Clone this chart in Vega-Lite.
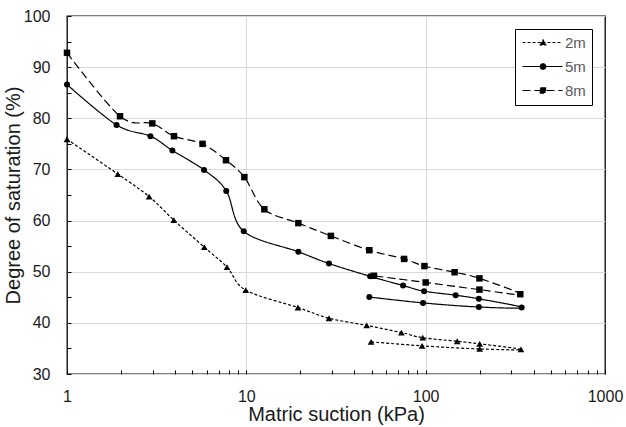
{
  "$schema": "https://vega.github.io/schema/vega-lite/v6.json",
  "width": 538,
  "height": 358,
  "autosize": "none",
  "padding": {"left": 67, "top": 16, "right": 21, "bottom": 53},
  "background": "white",
  "config": {
    "font": "Liberation Sans",
    "view": {"stroke": "black", "strokeWidth": 1.3},
    "axis": {
      "labelFont": "Liberation Sans",
      "titleFont": "Liberation Sans",
      "labelFontSize": 16,
      "titleFontSize": 20,
      "titleFontWeight": "normal",
      "labelColor": "#1a1a1a",
      "titleColor": "#1a1a1a",
      "domain": false,
      "ticks": true,
      "tickColor": "black",
      "tickWidth": 1,
      "tickOpacity": 1,
      "gridColor": "#d9d9d9",
      "gridWidth": 1
    },
    "legend": {
      "labelFont": "Liberation Sans",
      "labelFontSize": 15,
      "labelColor": "#595959"
    }
  },
  "data": {
    "values": [
      {"series": "2m", "o": 1, "x": 1, "y": 75.9},
      {"series": "2m", "o": 2, "x": 1.92, "y": 69.1},
      {"series": "2m", "o": 3, "x": 2.87, "y": 64.7},
      {"series": "2m", "o": 4, "x": 3.94, "y": 60.1},
      {"series": "2m", "o": 5, "x": 5.83, "y": 54.8},
      {"series": "2m", "o": 6, "x": 7.8, "y": 50.9},
      {"series": "2m", "o": 7, "x": 9.92, "y": 46.4},
      {"series": "2m", "o": 8, "x": 19.4, "y": 43.0},
      {"series": "2m", "o": 9, "x": 28.9, "y": 40.9},
      {"series": "2m", "o": 10, "x": 46.9, "y": 39.5},
      {"series": "2m", "o": 11, "x": 73.2, "y": 38.1},
      {"series": "2m", "o": 12, "x": 96.3, "y": 37.1},
      {"series": "2m", "o": 13, "x": 150, "y": 36.4},
      {"series": "2m", "o": 14, "x": 200, "y": 35.9},
      {"series": "2m", "o": 15, "x": 340, "y": 34.8},
      {"series": "2m", "o": 16, "x": 200, "y": 34.9},
      {"series": "2m", "o": 17, "x": 95.5, "y": 35.5},
      {"series": "2m", "o": 18, "x": 49.6, "y": 36.3},
      {"series": "5m", "o": 1, "x": 1, "y": 86.6},
      {"series": "5m", "o": 2, "x": 1.89, "y": 78.7},
      {"series": "5m", "o": 3, "x": 2.92, "y": 76.5},
      {"series": "5m", "o": 4, "x": 3.87, "y": 73.7},
      {"series": "5m", "o": 5, "x": 5.81, "y": 69.9},
      {"series": "5m", "o": 6, "x": 7.73, "y": 65.8},
      {"series": "5m", "o": 7, "x": 9.67, "y": 57.9},
      {"series": "5m", "o": 8, "x": 19.5, "y": 53.9},
      {"series": "5m", "o": 9, "x": 28.9, "y": 51.6},
      {"series": "5m", "o": 10, "x": 49, "y": 49.1},
      {"series": "5m", "o": 11, "x": 74.8, "y": 47.3},
      {"series": "5m", "o": 12, "x": 98, "y": 46.2},
      {"series": "5m", "o": 13, "x": 147, "y": 45.4},
      {"series": "5m", "o": 14, "x": 198, "y": 44.7},
      {"series": "5m", "o": 15, "x": 343, "y": 43.0},
      {"series": "5m", "o": 16, "x": 198, "y": 43.1},
      {"series": "5m", "o": 17, "x": 96.7, "y": 43.9},
      {"series": "5m", "o": 18, "x": 48.5, "y": 45.05},
      {"series": "8m", "o": 1, "x": 1, "y": 92.8},
      {"series": "8m", "o": 2, "x": 1.975, "y": 80.4},
      {"series": "8m", "o": 3, "x": 2.99, "y": 79.0},
      {"series": "8m", "o": 4, "x": 3.95, "y": 76.5},
      {"series": "8m", "o": 5, "x": 5.7, "y": 75.0},
      {"series": "8m", "o": 6, "x": 7.7, "y": 71.8},
      {"series": "8m", "o": 7, "x": 9.75, "y": 68.5},
      {"series": "8m", "o": 8, "x": 12.6, "y": 62.2},
      {"series": "8m", "o": 9, "x": 19.5, "y": 59.5},
      {"series": "8m", "o": 10, "x": 29.6, "y": 57.0},
      {"series": "8m", "o": 11, "x": 48.5, "y": 54.2},
      {"series": "8m", "o": 12, "x": 75.8, "y": 52.5},
      {"series": "8m", "o": 13, "x": 98.4, "y": 51.1},
      {"series": "8m", "o": 14, "x": 145, "y": 49.9},
      {"series": "8m", "o": 15, "x": 199.5, "y": 48.7},
      {"series": "8m", "o": 16, "x": 337, "y": 45.6},
      {"series": "8m", "o": 17, "x": 199.5, "y": 46.5},
      {"series": "8m", "o": 18, "x": 100, "y": 47.9},
      {"series": "8m", "o": 19, "x": 51.5, "y": 49.2}
    ]
  },
  "encoding": {
    "x": {
      "field": "x",
      "type": "quantitative",
      "title": "Matric suction (kPa)",
      "scale": {"type": "log", "domain": [1, 1000], "nice": false},
      "axis": {
        "values": [1, 2, 3, 4, 5, 6, 7, 8, 9, 10, 20, 30, 40, 50, 60, 70, 80, 90, 100, 200, 300, 400, 500, 600, 700, 800, 900, 1000],
        "labelExpr": "indexof([1,10,100,1000], datum.value) >= 0 ? '' + datum.value : ''",
        "gridOpacity": {"condition": {"test": "indexof([10,100], datum.value) >= 0", "value": 1}, "value": 0},
        "offset": -4,
        "tickSize": 4,
        "labelPadding": 14,
        "labelFlush": false,
        "labelOverlap": false,
        "titlePadding": 0
      }
    },
    "y": {
      "field": "y",
      "type": "quantitative",
      "title": "Degree of saturation (%)",
      "scale": {"domain": [30, 100], "nice": false},
      "axis": {
        "values": [30, 35, 40, 45, 50, 55, 60, 65, 70, 75, 80, 85, 90, 95, 100],
        "labelExpr": "datum.value % 10 === 0 ? '' + datum.value : ''",
        "gridOpacity": {"condition": {"test": "datum.value % 10 === 0", "value": 1}, "value": 0},
        "offset": -4,
        "tickSize": 4,
        "labelPadding": 17,
        "labelOverlap": false,
        "titlePadding": 0
      }
    }
  },
  "layer": [
    {
      "mark": {"type": "line", "interpolate": "cardinal", "strokeWidth": 1.2, "color": "black"},
      "encoding": {
        "order": {"field": "o", "type": "quantitative"},
        "strokeDash": {
          "field": "series",
          "type": "nominal",
          "scale": {"domain": ["2m", "5m", "8m"], "range": [[3, 2], [1, 0], [8, 4]]},
          "legend": {
            "title": null,
            "orient": "top-right",
            "offset": 13,
            "strokeColor": "black",
            "fillColor": "white",
            "padding": 6,
            "rowPadding": 8,
            "symbolSize": 4,
            "symbolOffset": 0,
            "symbolStrokeWidth": 1.2,
            "symbolStrokeColor": "black",
            "labelOffset": 29,
            "encode": {
              "symbols": {
                "update": {
                  "shape": {"signal": "datum.value === '2m' ? 'M-6,0H34M11.7,2.4L14.5,-2.6L17.3,2.4Z' : datum.value === '5m' ? 'M-6,0H34M11.75,0A2.75,2.75,0,1,1,17.25,0A2.75,2.75,0,1,1,11.75,0Z' : 'M-6,0H34M11.9,-2.6H17.1V2.6H11.9Z'"},
                  "fill": {"value": "black"},
                  "stroke": {"value": "black"}
                }
              }
            }
          }
        }
      }
    },
    {
      "mark": {"type": "point", "filled": true, "opacity": 1, "color": "black"},
      "encoding": {
        "shape": {
          "condition": [
            {"test": "datum.series === '2m'", "value": "triangle-up"},
            {"test": "datum.series === '5m'", "value": "circle"}
          ],
          "value": "square"
        },
        "size": {
          "condition": [
            {"test": "datum.series === '2m'", "value": 45},
            {"test": "datum.series === '5m'", "value": 36}
          ],
          "value": 42
        }
      }
    }
  ]
}
